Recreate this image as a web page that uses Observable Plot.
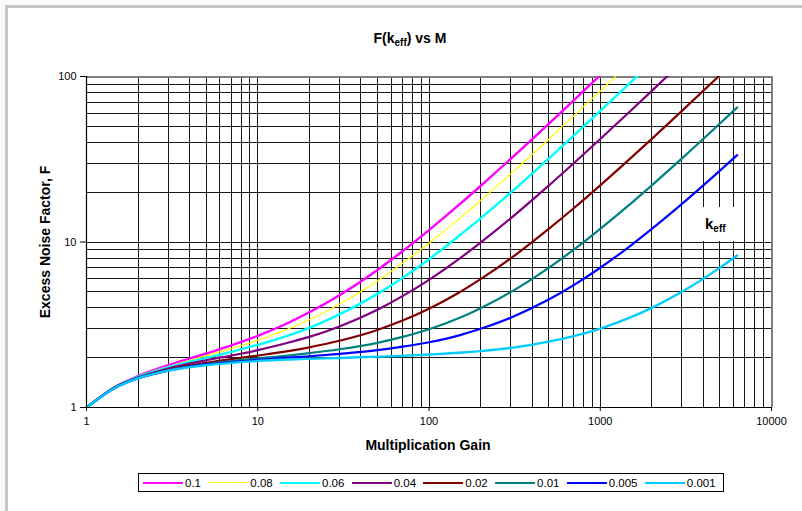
<!DOCTYPE html>
<html>
<head>
<meta charset="utf-8">
<script src="https://cdn.jsdelivr.net/npm/d3@7"></script>
<script src="https://cdn.jsdelivr.net/npm/@observablehq/plot@0.6"></script>
<style>
  html, body { margin: 0; padding: 0; background: #ffffff; }
  #wrap { position: relative; width: 802px; height: 511px; overflow: hidden; font-family: "Liberation Sans", Arial, sans-serif; background: #fafafa; }
  #panel { position: absolute; left: 5px; top: 5px; width: 820px; height: 530px; border-left: 3px solid #c6c6c6; border-top: 3px solid #c6c6c6; background: #fff; }
  #chart { position: absolute; left: 0; top: 0; }
  .title { position: absolute; left: 310px; width: 200px; top: 30px; text-align: center; font-weight: bold; font-size: 14px; color: #000; }
  .title sub, .keff sub { font-size: 10px; vertical-align: baseline; position: relative; top: 3px; }
  .ytitle { position: absolute; left: 45px; top: 242px; transform: translate(-50%, -50%) rotate(-90deg); white-space: nowrap; font-weight: bold; font-size: 14px; }
  .xtitle { position: absolute; left: 328px; width: 200px; top: 437px; text-align: center; font-weight: bold; font-size: 14px; }
  .keff { position: absolute; left: 700px; top: 207px; width: 43px; height: 34px; background: #fff; font-weight: bold; font-size: 15px; }
  .keff span { position: absolute; left: 5px; top: 8px; }
  #legend { position: absolute; left: 138px; top: 473px; width: 580px; height: 17px; border: 1px solid #000; background: #fff; display: flex; align-items: center; padding-left: 4px; box-sizing: content-box; }
  #legend .item { display: flex; align-items: center; margin-right: 7.3px; font-size: 11.5px; }
  #legend .sw { width: 40px; margin-right: 2px; }
</style>
</head>
<body>
<div id="wrap">
  <div id="panel"></div>
  <div id="chart"></div>
  <div class="title">F(k<sub>eff</sub>) vs M</div>
  <div class="ytitle">Excess Noise Factor, F</div>
  <div class="xtitle">Multiplication Gain</div>
  <div class="keff"><span>k<sub>eff</sub></span></div>
  <div id="legend"></div>
</div>
<script>
// Multiplication gain sample points (x)
const gain = [1, 1.5, 2, 3, 5, 7, 10, 15, 20, 30, 50, 70, 100, 150, 200, 300, 500, 700, 1000, 1500, 2000, 3000, 5000, 6300];

// Excess noise factor, one array per k_eff
const F_k0100 = [1.00, 1.35, 1.55, 1.80, 2.12, 2.37, 2.71, 3.24, 3.76, 4.77, 6.78, 8.79, 11.8, 16.8, 21.8, 31.8, 51.8, 71.8, 101.8];
const F_k0080 = [1.00, 1.35, 1.54, 1.77, 2.06, 2.27, 2.55, 2.98, 3.39, 4.21, 5.82, 7.43, 9.83, 13.8, 17.8, 25.8, 41.8, 57.8, 81.8, 121.8];
const F_k0060 = [1.00, 1.34, 1.53, 1.75, 1.99, 2.17, 2.39, 2.72, 3.03, 3.65, 4.86, 6.07, 7.87, 10.9, 13.9, 19.9, 31.9, 43.9, 61.9, 91.9, 121.9];
const F_k0040 = [1.00, 1.34, 1.52, 1.72, 1.93, 2.06, 2.22, 2.46, 2.67, 3.09, 3.90, 4.71, 5.91, 7.91, 9.92, 13.9, 21.9, 29.9, 41.9, 61.9, 81.9, 121.9];
const F_k0020 = [1.00, 1.34, 1.51, 1.69, 1.86, 1.96, 2.06, 2.19, 2.31, 2.53, 2.94, 3.35, 3.95, 4.95, 5.96, 7.96, 12.0, 16.0, 22.0, 32.0, 42.0, 62.0, 102.0];
const F_k0010 = [1.00, 1.34, 1.51, 1.68, 1.83, 1.91, 1.98, 2.06, 2.13, 2.25, 2.46, 2.67, 2.97, 3.47, 3.98, 4.98, 6.98, 8.98, 12.0, 17.0, 22.0, 32.0, 52.0, 65.0];
const F_k0005 = [1.00, 1.33, 1.50, 1.67, 1.82, 1.88, 1.94, 2.00, 2.04, 2.11, 2.22, 2.33, 2.48, 2.73, 2.99, 3.49, 4.49, 5.49, 6.99, 9.49, 12.0, 17.0, 27.0, 33.5];
const F_k0001 = [1.00, 1.33, 1.50, 1.67, 1.80, 1.86, 1.91, 1.95, 1.97, 1.99, 2.03, 2.05, 2.09, 2.14, 2.19, 2.29, 2.50, 2.70, 3.00, 3.50, 4.00, 5.00, 7.00, 8.30];

const seriesLabels = ["0.1", "0.08", "0.06", "0.04", "0.02", "0.01", "0.005", "0.001"];
const seriesValues = [F_k0100, F_k0080, F_k0060, F_k0040, F_k0020, F_k0010, F_k0005, F_k0001];
const seriesColors = ["#ff00ff", "#ffff00", "#00ffff", "#800080", "#800000", "#008080", "#0000ff", "#00ccff"];
const seriesWidths = [2.4, 1.2, 2.4, 2.2, 2.2, 2.2, 2.2, 2.4];

const xTickValues = [1, 10, 100, 1000, 10000];
const yTickValues = [1, 10, 100];

const xGrid = d3.scaleLog().domain([1, 10000]).ticks();
const yGrid = d3.scaleLog().domain([1, 100]).ticks();

const series = seriesLabels.map((k, i) => ({
  k,
  color: seriesColors[i],
  width: seriesWidths[i],
  rows: seriesValues[i].map((F, j) => ({M: gain[j], F}))
}));

const chart = Plot.plot({
  width: 802,
  height: 511,
  marginLeft: 86,
  marginRight: 31,
  marginTop: 76,
  marginBottom: 104,
  style: {fontFamily: "'Liberation Sans', Arial, sans-serif", fontSize: "11px", background: "transparent", color: "#000"},
  x: {type: "log", domain: [1, 10000]},
  y: {type: "log", domain: [1, 100]},
  marks: [
    Plot.ruleX(xGrid, {stroke: "#1a1a1a", strokeWidth: 1, shapeRendering: "crispEdges"}),
    Plot.ruleY(yGrid, {stroke: "#1a1a1a", strokeWidth: 1, shapeRendering: "crispEdges"}),
    Plot.ruleX([10000], {stroke: "#808080", strokeWidth: 2, shapeRendering: "crispEdges"}),
    Plot.ruleY([100], {stroke: "#808080", strokeWidth: 2, shapeRendering: "crispEdges"}),
    ...series.map(s => Plot.line(s.rows, {x: "M", y: "F", stroke: s.color, strokeWidth: s.width, curve: "monotone-x", clip: true})),
    Plot.ruleX([1], {stroke: "#000", strokeWidth: 1.2}),
    Plot.ruleY([1], {stroke: "#000", strokeWidth: 1.2}),
    Plot.axisX({ticks: xTickValues, tickFormat: d => String(d), tickSize: 4, tickPadding: 6, label: null, fontSize: 11}),
    Plot.axisY({ticks: yTickValues, tickFormat: d => String(d), tickSize: 6, tickPadding: 4, label: null, fontSize: 11})
  ]
});
document.getElementById("chart").appendChild(chart);

const legend = document.getElementById("legend");
series.forEach(s => {
  const item = document.createElement("div");
  item.className = "item";
  const sw = document.createElement("div");
  sw.className = "sw";
  sw.style.height = (s.width < 2 ? 1 : 2) + "px";
  sw.style.background = s.color;
  const lab = document.createElement("span");
  lab.textContent = s.k;
  item.appendChild(sw);
  item.appendChild(lab);
  legend.appendChild(item);
});
</script>
</body>
</html>
